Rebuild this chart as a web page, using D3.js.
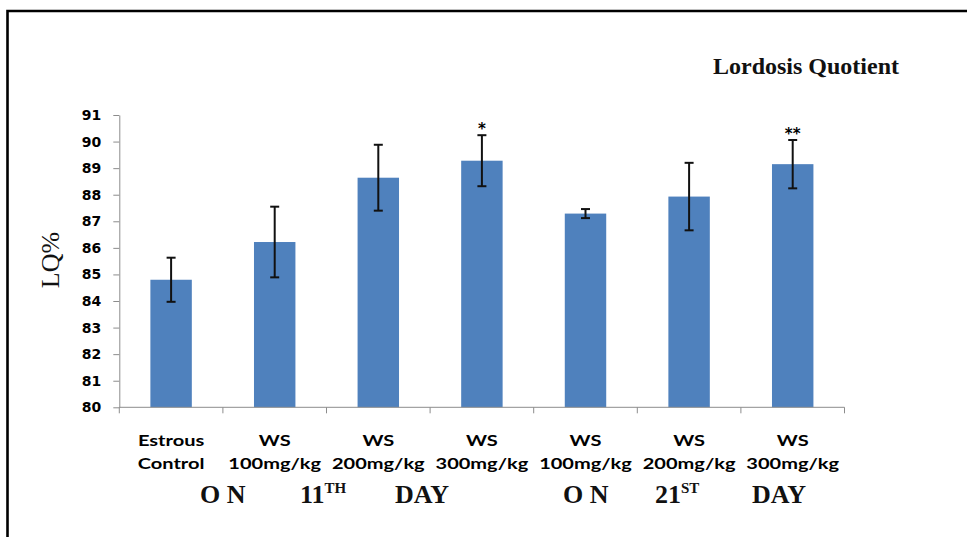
<!DOCTYPE html>
<html>
<head>
<meta charset="utf-8">
<script src="https://cdn.jsdelivr.net/npm/d3@7"></script>
<style>
  body { margin: 0; background: #fff; }
  svg { display: block; }
</style>
</head>
<body>
<div id="chart"></div>
<script>
// chart values
const groups = ["Estrous|Control", "WS|100mg/kg", "WS|200mg/kg", "WS|300mg/kg",
                "WS|100mg/kg", "WS|200mg/kg", "WS|300mg/kg"];
const lqMeans = [84.8, 86.22, 88.64, 89.28, 87.29, 87.93, 89.15];
const lqErrors = [0.83, 1.33, 1.24, 0.96, 0.17, 1.27, 0.91];
const stars = ["", "", "", "*", "", "", "**"];
const yTicks = [80, 81, 82, 83, 84, 85, 86, 87, 88, 89, 90, 91];

const width = 967, height = 537;
const margin = { top: 115, right: 122.5, bottom: 129.7, left: 119.3 };

let svg = d3.select("#chart")
    .append("svg")
    .attr("width", width)
    .attr("height", height);

// frame (only top + left edges show in the picture)
svg.append("path")
    .attr("d", "M7.5,537 V11 H967")
    .attr("fill", "none")
    .attr("stroke", "#000")
    .attr("stroke-width", 2.6);

let x = d3.scaleBand()
    .domain(d3.range(groups.length))
    .range([margin.left, width - margin.right])
    .paddingInner(0.6)
    .paddingOuter(0.3);

let y = d3.scaleLinear()
    .domain([80, 91])
    .range([height - margin.bottom, margin.top]);

// bars
svg.selectAll("rect.bar")
    .data(lqMeans)
    .enter()
    .append("rect")
    .attr("class", "bar")
    .attr("x", (d, i) => x(i))
    .attr("y", d => y(d))
    .attr("width", x.bandwidth())
    .attr("height", d => y(80) - y(d))
    .attr("fill", "#4f81bd");

// error bars
let err = svg.selectAll("g.err")
    .data(lqMeans)
    .enter()
    .append("g")
    .attr("class", "err")
    .attr("stroke", "#111")
    .attr("stroke-width", 2);
let cx = i => x(i) + x.bandwidth() / 2;
err.append("line")
    .attr("x1", (d, i) => cx(i)).attr("x2", (d, i) => cx(i))
    .attr("y1", (d, i) => y(d + lqErrors[i]))
    .attr("y2", (d, i) => y(d - lqErrors[i]));
err.append("line")
    .attr("x1", (d, i) => cx(i) - 4.5).attr("x2", (d, i) => cx(i) + 4.5)
    .attr("y1", (d, i) => y(d + lqErrors[i])).attr("y2", (d, i) => y(d + lqErrors[i]));
err.append("line")
    .attr("x1", (d, i) => cx(i) - 4.5).attr("x2", (d, i) => cx(i) + 4.5)
    .attr("y1", (d, i) => y(d - lqErrors[i])).attr("y2", (d, i) => y(d - lqErrors[i]));

// significance stars, sitting just above the caps
svg.selectAll("text.star")
    .data(lqMeans)
    .enter()
    .append("text")
    .attr("class", "star")
    .attr("x", (d, i) => cx(i))
    .attr("y", (d, i) => y(d + lqErrors[i]) - 1)
    .attr("text-anchor", "middle")
    .attr("font-family", "DejaVu Sans")
    .attr("font-weight", "bold")
    .attr("font-size", "15px")
    .text((d, i) => stars[i]);

// y axis
let yAxis = svg.append("g")
    .attr("transform", "translate(" + margin.left + ",0)")
    .call(d3.axisLeft(y).tickValues(yTicks).tickSize(6).tickPadding(12).tickSizeOuter(0));
yAxis.select(".domain").attr("stroke", "#8c8c8c");
yAxis.selectAll(".tick line").attr("stroke", "#8c8c8c");
yAxis.selectAll("text")
    .attr("font-family", "DejaVu Sans")
    .attr("font-weight", "bold")
    .attr("font-size", "14px")
    .attr("fill", "#000");

// x axis line with boundary ticks
let xAxisY = y(80);
let bounds = d3.range(groups.length + 1).map(i => margin.left + i * x.step());
svg.append("line")
    .attr("x1", margin.left).attr("x2", bounds[bounds.length - 1])
    .attr("y1", xAxisY).attr("y2", xAxisY)
    .attr("stroke", "#8c8c8c");
svg.selectAll("line.xtick")
    .data(bounds)
    .enter()
    .append("line")
    .attr("class", "xtick")
    .attr("x1", d => d).attr("x2", d => d)
    .attr("y1", xAxisY).attr("y2", xAxisY + 6)
    .attr("stroke", "#8c8c8c");

// category labels, two lines each (Calibri-like, stretched wide)
let labels = svg.selectAll("g.xlab")
    .data(groups)
    .enter()
    .append("g")
    .attr("class", "xlab")
    .attr("font-family", "Lato")
    .attr("font-weight", "bold")
    .attr("font-size", "14.5px")
    .attr("fill", "#000")
    .attr("text-anchor", "middle");
labels.append("text")
    .attr("transform", (d, i) => "translate(" + cx(i) + ",446) scale(1.38,1)")
    .text(d => d.split("|")[0]);
labels.append("text")
    .attr("transform", (d, i) => "translate(" + cx(i) + ",469) scale(1.38,1)")
    .text(d => d.split("|")[1]);

// day captions under the categories
let dayFont = g => g.attr("font-family", "Liberation Serif")
    .attr("font-weight", "bold")
    .attr("font-size", "26px")
    .attr("fill", "#111");
function dayCaption(x0, x1, x2, num, sup) {
    let g = svg.append("g").call(dayFont);
    g.append("text").attr("x", x0).attr("y", 503).text("O N");
    let t = g.append("text").attr("x", x1).attr("y", 503);
    t.append("tspan").text(num);
    t.append("tspan").attr("font-size", "15px").attr("dy", -10).text(sup);
    g.append("text").attr("x", x2).attr("y", 503).text("DAY");
}
dayCaption(200, 300, 395, "11", "TH");
dayCaption(563, 655, 752, "21", "ST");

// title
svg.append("text")
    .attr("x", 713)
    .attr("y", 74)
    .attr("font-family", "Liberation Serif")
    .attr("font-weight", "bold")
    .attr("font-size", "24px")
    .attr("fill", "#111")
    .text("Lordosis Quotient");

// y label
svg.append("text")
    .attr("transform", "translate(59,260) rotate(-90)")
    .attr("text-anchor", "middle")
    .attr("font-family", "Liberation Serif")
    .attr("font-size", "26px")
    .attr("fill", "#111")
    .text("LQ%");
</script>
</body>
</html>
